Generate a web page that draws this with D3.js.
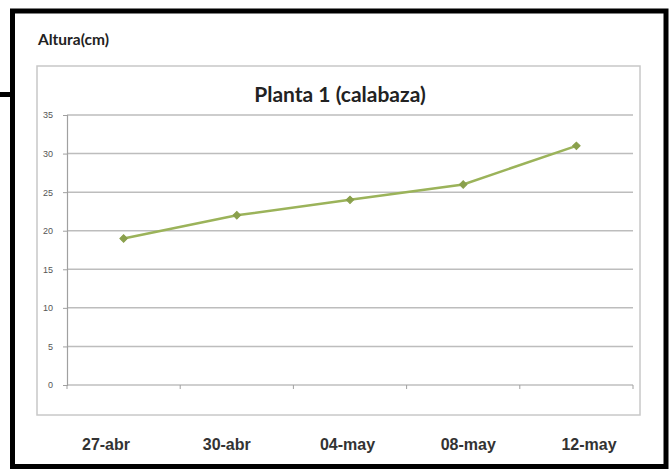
<!DOCTYPE html>
<html><head><meta charset="utf-8">
<script src="https://cdn.jsdelivr.net/npm/d3@7"></script>
<style>html,body{margin:0;padding:0;background:#fff;} svg{display:block;}</style>
</head><body>
<script>
const categories = ["27-abr", "30-abr", "04-may", "08-may", "12-may"];
const heights = [19, 22, 24, 26, 31];
const yTicks = [0, 5, 10, 15, 20, 25, 30, 35];
const chartTitle = "Planta 1 (calabaza)";
const yLabel = "Altura(cm)";

(function () {
const W = 669, H = 469;
const svg = d3.select("body").append("svg").attr("width", W).attr("height", H);
svg.append("rect").attr("width", W).attr("height", H).attr("fill", "#fff");

// stub line at left from neighbouring picture
svg.append("line").attr("x1", 0).attr("x2", 14).attr("y1", 94.5).attr("y2", 94.5)
  .attr("stroke", "#000").attr("stroke-width", 5);

// outer black frame
svg.append("rect").attr("x", 12.5).attr("y", 11).attr("width", 653.5).attr("height", 455.5)
  .attr("fill", "none").attr("stroke", "#000").attr("stroke-width", 5);

// inner chart box
svg.append("rect").attr("x", 37).attr("y", 66).attr("width", 603).attr("height", 349)
  .attr("fill", "none").attr("stroke", "#c8c8c8").attr("stroke-width", 1.5);

svg.append("text").attr("x", 38).attr("y", 45).text(yLabel)
  .attr("font-family", "Lato, 'Open Sans', sans-serif").attr("font-weight", "bold")
  .attr("font-size", 15.5).attr("fill", "#222");

svg.append("text").attr("x", 340).attr("y", 102).attr("text-anchor", "middle").text(chartTitle)
  .attr("font-family", "Lato, 'Open Sans', sans-serif").attr("font-weight", "bold")
  .attr("font-size", 21).attr("fill", "#222");

const pLeft = 67, pRight = 633, pTop = 115, pBottom = 385;
const x = d3.scaleBand().domain(categories).range([pLeft, pRight]);
const y = d3.scaleLinear().domain([0, 35]).range([pBottom, pTop]);

// gridlines
svg.append("g").selectAll("line").data(yTicks.filter(d => d > 0)).join("line")
  .attr("x1", pLeft).attr("x2", pRight)
  .attr("y1", d => y(d)).attr("y2", d => y(d))
  .attr("stroke", "#bdbdbd").attr("stroke-width", 1.5);

// y axis
const yAxis = svg.append("g").attr("transform", `translate(${pLeft},0)`)
  .call(d3.axisLeft(y).tickValues(yTicks).tickSize(4).tickPadding(10));
yAxis.select(".domain").attr("stroke", "#a0a0a0").attr("stroke-width", 1.2);
yAxis.selectAll(".tick line").attr("stroke", "#a0a0a0");
yAxis.selectAll(".tick text").attr("font-family", "'Liberation Sans', Arial, sans-serif")
  .attr("font-size", 9).attr("fill", "#555");

// x axis line with ticks at band boundaries
svg.append("line").attr("x1", pLeft).attr("x2", pRight).attr("y1", pBottom).attr("y2", pBottom)
  .attr("stroke", "#a0a0a0").attr("stroke-width", 1.2);
const boundaries = categories.map(c => x(c)).concat([x(categories[categories.length - 1]) + x.bandwidth()]);
svg.append("g").selectAll("line").data(boundaries).join("line")
  .attr("x1", d => d).attr("x2", d => d).attr("y1", pBottom).attr("y2", pBottom + 4)
  .attr("stroke", "#a0a0a0").attr("stroke-width", 1);

// category labels (outside the box)
const xl = d3.scalePoint().domain(categories).range([106, 589]);
svg.append("g").selectAll("text").data(categories).join("text")
  .attr("x", d => xl(d)).attr("y", 450).attr("text-anchor", "middle").text(d => d)
  .attr("font-family", "'Liberation Sans Narrow', 'Liberation Sans', Arial, sans-serif")
  .attr("font-weight", "bold").attr("font-size", 16).attr("fill", "#333");

// data line
const data = categories.map((c, i) => ({c, v: heights[i]}));
const line = d3.line().x(d => x(d.c) + x.bandwidth() / 2).y(d => y(d.v));
svg.append("path").datum(data).attr("d", line)
  .attr("fill", "none").attr("stroke", "#9bb35a").attr("stroke-width", 2.5);
svg.append("g").selectAll("path").data(data).join("path")
  .attr("transform", d => `translate(${x(d.c) + x.bandwidth() / 2},${y(d.v)}) rotate(45)`)
  .attr("d", d3.symbol(d3.symbolSquare, 28))
  .attr("fill", "#8aa04c").attr("stroke", "#8aa04c").attr("stroke-width", 1);
})();
</script>
</body></html>
